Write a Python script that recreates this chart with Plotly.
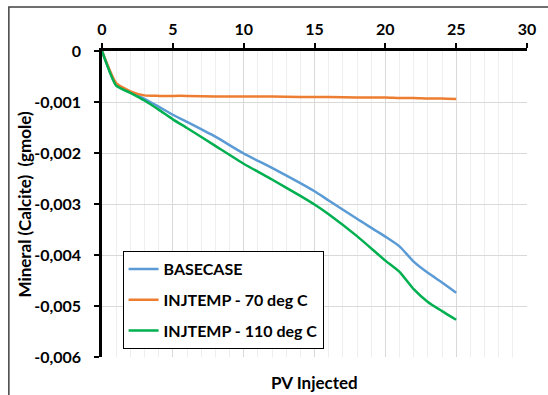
import plotly.graph_objects as go

# PV injected (x) and calcite change in gmole for each case
pv = [0, 1, 2, 3, 4, 5, 6, 8, 10, 12, 14, 15, 16, 18, 20, 21, 22, 23, 24, 25]
basecase = [0, -0.00066, -0.00080, -0.00094, -0.00109, -0.00125, -0.00139, -0.00168,
            -0.00201, -0.00229, -0.00259, -0.00275, -0.00293, -0.00329, -0.00364,
            -0.00383, -0.00413, -0.00435, -0.00454, -0.00474]
inj70 = [0, -0.00063, -0.00079, -0.00087, -0.00088, -0.00088, -0.00088, -0.00089,
         -0.00089, -0.00089, -0.00090, -0.00090, -0.00090, -0.00091, -0.00091,
         -0.00092, -0.00092, -0.00093, -0.00093, -0.00094]
inj110 = [0, -0.00068, -0.00082, -0.00097, -0.00115, -0.00134, -0.00151, -0.00186,
          -0.00221, -0.00252, -0.00284, -0.00301, -0.00320, -0.00363, -0.00411,
          -0.00433, -0.00467, -0.00492, -0.00510, -0.00527]

series_names = ["BASECASE", "INJTEMP - 70 deg C", "INJTEMP - 110 deg C"]
series_colors = ["#5B9BD5", "#ED7D31", "#00B050"]

y_tickvals = [0, -0.001, -0.002, -0.003, -0.004, -0.005, -0.006]
y_ticktext = ["0", "-0,001", "-0,002", "-0,003", "-0,004", "-0,005", "-0,006"]
x_tickvals = [0, 5, 10, 15, 20, 25, 30]

FONT = "Lato"
TICK_SIZE = 16
TITLE_SIZE = 17

fig = go.Figure()
for i, (name, vals, col) in enumerate(zip(series_names, [basecase, inj70, inj110], series_colors)):
    fig.add_trace(go.Scatter(
        x=pv, y=vals, name=name, mode="lines",
        line=dict(color=col, width=2.5, shape="spline", smoothing=0.5),
        legendgroup=f"g{i}",
    ))

L, R, T, B = 102, 12.5, 51, 38
W, H = 548, 395
pw, ph = W - L - R, H - T - B

fig.update_layout(
    width=W, height=H,
    margin=dict(l=L, r=R, t=T, b=B),
    paper_bgcolor="white", plot_bgcolor="white",
    font=dict(family=FONT, color="black", size=TICK_SIZE),
    showlegend=True,
    legend=dict(
        x=(123 - L) / pw, y=(H - B - 251) / ph, xanchor="left", yanchor="top",
        bgcolor="white", bordercolor="black", borderwidth=1,
        font=dict(family=FONT, size=TICK_SIZE, weight="bold", color="black"),
        tracegroupgap=7, itemwidth=30,
    ),
    xaxis=dict(
        range=[0, 30], side="top", tickvals=x_tickvals,
        showline=True, linecolor="black", linewidth=2.5,
        ticks="outside", ticklen=5, tickwidth=2, tickcolor="black",
        ticklabelstandoff=2,
        tickfont=dict(family=FONT, size=TICK_SIZE, weight="bold"),
        showgrid=True, gridcolor="#D9D9D9", gridwidth=1,
        minor=dict(dtick=1, showgrid=True, gridcolor="#EEEEEE", gridwidth=1),
        zeroline=False,
    ),
    yaxis=dict(
        range=[-0.006, 0], tickvals=y_tickvals, ticktext=y_ticktext,
        showline=True, linecolor="black", linewidth=2.5,
        ticks="outside", ticklen=5, tickwidth=2, tickcolor="black",
        ticklabelstandoff=10,
        tickfont=dict(family=FONT, size=TICK_SIZE, weight="bold"),
        showgrid=True, gridcolor="#D9D9D9", gridwidth=1,
        zeroline=False,
    ),
    annotations=[
        dict(text="<b>PV Injected</b>", xref="paper", yref="paper",
             x=0.5, y=-(382 - (H - B)) / ph, xanchor="center", yanchor="middle",
             showarrow=False, font=dict(family=FONT, size=TITLE_SIZE)),
        dict(text="<b>Mineral (Calcite)  (gmole)</b>", xref="paper", yref="paper",
             x=(22 - L) / pw, y=0.5, xanchor="center", yanchor="middle",
             textangle=-90, showarrow=False, font=dict(family=FONT, size=TITLE_SIZE)),
    ],
    shapes=[
        # chart-area frame (top and left edges visible)
        dict(type="rect", xref="paper", yref="paper",
             x0=(7 - L) / pw, x1=(W + 20 - L) / pw,
             y0=-(B + 20) / ph, y1=(H - B - 7) / ph,
             line=dict(color="#404040", width=1.5), fillcolor="rgba(0,0,0,0)",
             layer="below"),
    ],
)

fig.write_html("out.html")
